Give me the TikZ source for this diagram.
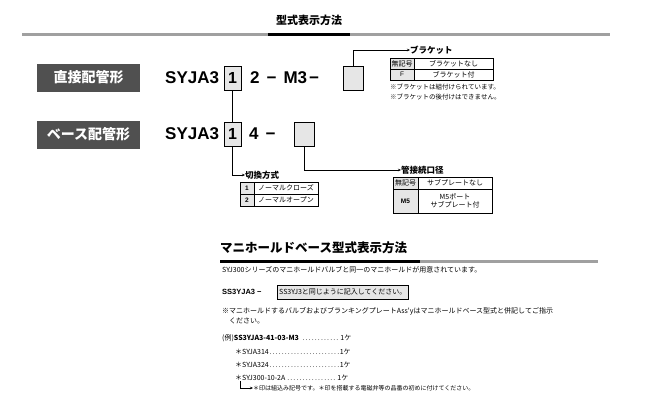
\documentclass[tikz,border=0pt]{standalone}
\usepackage{fontspec}
\setmainfont{Liberation Sans}
\newfontfamily\jp{Noto Sans CJK JP}
\usetikzlibrary{positioning,arrows.meta}
\definecolor{darkbox}{HTML}{505050}
\definecolor{lightfill}{HTML}{E6E6E6}
\definecolor{rulegray}{HTML}{A0A0A0}
\tikzset{
  tag/.style={fill=darkbox,text=white,font=\jp\fontsize{14}{14}\selectfont\bfseries,minimum width=103pt,minimum height=28pt,inner sep=0pt},
  code/.style={font=\fontsize{17}{17}\selectfont\bfseries,inner sep=0pt,anchor=west},
  digit/.style={draw,fill=lightfill,minimum width=17pt,minimum height=24pt,inner sep=0pt,font=\fontsize{16}{16}\selectfont\bfseries},
  blank/.style={draw,fill=lightfill,minimum width=20pt,minimum height=24pt,inner sep=0pt},
  head/.style={font=\jp\fontsize{8.5}{8.5}\selectfont\bfseries,inner sep=0pt,anchor=west},
  small/.style={font=\jp\fontsize{7}{8}\selectfont,inner sep=0pt,anchor=west,align=left},
  cell/.style={draw,font=\jp\fontsize{7}{7.5}\selectfont,inner sep=0pt,align=center},
  link/.style={-{Stealth[length=3pt,width=2.5pt]}}
}
\begin{document}
\begin{tikzpicture}[x=1pt,y=-1pt]
\useasboundingbox (0,0) rectangle (664,405);
% title
\node[font=\jp\fontsize{11}{11}\selectfont\bfseries,inner sep=0pt] (title) at (309,20) {型式表示方法};
\draw[rulegray,line width=3pt] (22,34) -- (610,34);
\draw[black,line width=3pt] (268,34) -- (350,34);
% row 1
\node[tag] (direct) at (88.5,77.5) {直接配管形};
\node[code] (code1) at (165,78) {SYJA3};
\node[digit] (sw1) at (232.5,78) {1};
\node[code] (rest1) at (250,78) {2\hspace{7pt}−\hspace{7pt}M3\hspace{2pt}−};
\node[blank] (br) at (353,78) {};
% row 2
\node[tag] (base) at (88.5,134.5) {ベース配管形};
\node[code] (code2) at (165,134) {SYJA3};
\node[digit] (sw2) at (232.5,134) {1};
\node[code] (rest2) at (249,134) {4\hspace{7pt}−};
\node[blank] (pipe) at (304,134) {};
% switching
\draw (sw1.south) -- (sw2.north);
\node[head] (swhead) at (245,175) {切換方式};
\draw[link] (sw2.south) |- (swhead.west);
\node[cell,fill=lightfill,minimum width=14pt,minimum height=12pt,font=\fontsize{6.5}{7}\selectfont\bfseries] (s1) at (247,188) {1};
\node[cell,minimum width=64pt,minimum height=12pt,right=-0.4pt of s1] (s1t) {ノーマルクローズ};
\node[cell,fill=lightfill,minimum width=14pt,minimum height=12pt,font=\fontsize{6.5}{7}\selectfont\bfseries,below=-0.4pt of s1] (s2) {2};
\node[cell,minimum width=64pt,minimum height=12pt,right=-0.4pt of s2] (s2t) {ノーマルオープン};
% bracket
\node[head] (brhead) at (410,50) {ブラケット};
\draw[link] (br.north) |- (brhead.west);
\node[cell,fill=lightfill,minimum width=24pt,minimum height=11pt] (b1) at (402,63.5) {無記号};
\node[cell,minimum width=79pt,minimum height=11pt,right=-0.4pt of b1] (b1t) {ブラケットなし};
\node[cell,fill=lightfill,minimum width=24pt,minimum height=11pt,below=-0.4pt of b1,font=\fontsize{6.5}{7}\selectfont] (b2) {F};
\node[cell,minimum width=79pt,minimum height=11pt,right=-0.4pt of b2] (b2t) {ブラケット付};
\node[small,font=\jp\fontsize{6.5}{9.5}\selectfont] (bnote) at (390,92) {※ブラケットは組付けられています。\\※ブラケットの後付けはできません。};
% piping
\node[head] (pphead) at (401,170) {管接続口径};
\draw[link] (pipe.south) |- (pphead.west);
\node[cell,fill=lightfill,minimum width=25pt,minimum height=12pt] (p1) at (405.5,183) {無記号};
\node[cell,minimum width=74pt,minimum height=12pt,right=-0.4pt of p1] (p1t) {サブプレートなし};
\node[cell,fill=lightfill,minimum width=25pt,minimum height=24pt,below=-0.4pt of p1,font=\fontsize{6.5}{7}\selectfont\bfseries] (p2) {M5};
\node[cell,minimum width=74pt,minimum height=24pt,right=-0.4pt of p2] (p2t) {M5ポート\\サブプレート付};
% manifold section
\node[font=\jp\fontsize{12.5}{12.5}\selectfont\bfseries,inner sep=0pt,anchor=west] (mtitle) at (220,248) {マニホールドベース型式表示方法};
\draw[rulegray,line width=3pt] (420,261) -- (598,261);
\draw[black,line width=3pt] (220,261) -- (420,261);
\node[small] (intro) at (222,270) {SYJ300シリーズのマニホールドバルブと同一のマニホールドが用意されています。};
\node[small,font=\fontsize{7.5}{7.5}\selectfont\bfseries] (ss) at (222,292) {SS3YJA3 −};
\node[draw,fill=lightfill,small,anchor=west,minimum width=113pt,minimum height=14pt,inner sep=2pt] (same) at (277,292) {SS3YJ3と同じように記入してください。};
\node[small,font=\jp\fontsize{7}{10}\selectfont] (mnote) at (222,316) {※マニホールドするバルブおよびブランキングプレートAss'yはマニホールドベース型式と併記してご指示\\\hspace*{7pt}ください。};
\node[small] (ex0) at (222,338) {(例)\textbf{SS3YJA3-41-03-M3} \makebox[40pt]{\dotfill}1ケ};
\node[small] (ex1) at (235,352) {＊SYJA314\makebox[71pt]{\dotfill}1ケ};
\node[small] (ex2) at (235,365) {＊SYJA324\makebox[71pt]{\dotfill}1ケ};
\node[small] (ex3) at (235,378) {＊SYJ300-10-2A\makebox[52pt]{\dotfill}1ケ};
\node[small,font=\jp\fontsize{6}{6}\selectfont] (astnote) at (253,388) {＊印は組込み記号です。＊印を搭載する電磁弁等の品番の初めに付けてください。};
\coordinate (astdn) at (240,381);
\draw[link] (astdn) |- (astnote.west);
\end{tikzpicture}
\end{document}
